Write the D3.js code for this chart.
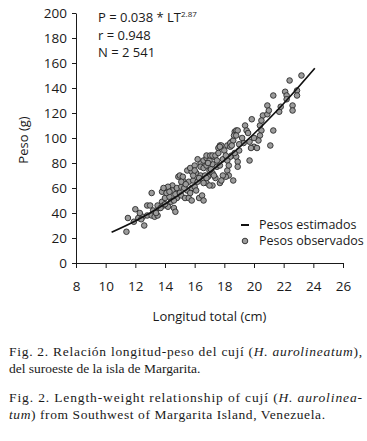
<!DOCTYPE html>
<html lang="es">
<head>
  <meta charset="UTF-8">
  <title>Fig. 2</title>
  <script src="https://d3js.org/d3.v7.min.js"></script>
  <style>
    * { margin: 0; padding: 0; box-sizing: border-box; }
    body { background: #fff; width: 367px; height: 441px; overflow: hidden; }
    .sans { font-family: "Open Sans", "DejaVu Sans", sans-serif; fill: #1a1a1a; }
    .serif { font-family: "Liberation Serif", "DejaVu Serif", serif; fill: #1a1a1a; }
    .axis path, .axis line { stroke: #1a1a1a; stroke-width: 1; }
  </style>
</head>
<body>
  <div id="chart"></div>
  <script>
    // escalas y textos
    const xTicks = [8, 10, 12, 14, 16, 18, 20, 22, 24, 26];
    const yTicks = [0, 20, 40, 60, 80, 100, 120, 140, 160, 180, 200];
    const annotation = ["r = 0.948", "N = 2 541"];
    const legendLabels = ["Pesos estimados", "Pesos observados"];

    // curva estimada (longitud cm, peso g)
    const lineLength = [10.4, 12, 14, 16, 18, 20, 22, 24.1];
    const lineWeight = [24.6, 33.6, 47.2, 63.3, 82.1, 103.4, 127.6, 155.8];

    // pesos observados [longitud, peso]
    const observed = [
      [11.4,25],[11.5,36],[11.9,33],[12.0,43],[12.2,36],[12.5,37],[12.6,30],[12.8,38],[12.8,46],[13.0,46],
      [13.1,38],[13.1,56],[13.3,37],[13.5,38],[13.6,44],[13.5,46],[13.8,49],[13.9,58],[13.9,46],[14.0,52],
      [14.2,60],[14.3,53],[14.4,49],[14.2,45],[14.5,62],[14.7,57],[14.8,52],[14.6,44],[14.7,41],[14.9,69],
      [13.8,57],[14.1,56],[14.5,58],[14.7,55],[15.0,56],[14.2,61],[13.9,60],[14.8,60],[15.1,61],[15.5,58],
      [15.8,60],[16.0,61],[16.1,58],[15.1,54],[15.35,52],[15.6,52],[15.7,56],[15.8,50],[16.3,52],[16.5,54],
      [16.6,50],[15.0,70],[15.2,66],[15.6,65],[15.9,66],[16.2,65],[16.6,66],[16.8,64],[17.2,62],[15.5,74],
      [15.8,73],[16.1,72],[16.4,70],[16.7,70],[16.9,69],[15.2,69],[15.1,65],[15.7,76],[16.0,78],[16.4,80],
      [16.4,77],[16.6,76],[16.8,78],[17.2,79],[17.5,77],[17.7,78],[16.2,83],[16.6,82],[16.8,84],[17.0,82],
      [17.3,85],[16.8,86],[17.05,86],[17.2,86],[17.4,86],[17.6,92],[17.7,94],[17.8,94],[17.7,93],[18.2,94],
      [18.4,93],[18.5,97],[18.4,96],[18.6,98],[18.5,94],[18.7,105],[18.8,106],[18.65,102],[18.9,106],[18.8,102],
      [17.9,83],[18.2,84],[18.5,86],[18.8,85],[18.7,88],[18.4,85],[18.2,82],[18.9,81],[18.9,77],[18.2,74],
      [18.3,70],[18.1,69],[17.9,70],[17.7,64],[17.8,66],[18.6,66],[16.6,64],[17.0,62],[16.8,68],[17.2,72],
      [17.0,74],[17.4,68],[19.3,96],[19.7,97],[20.0,93],[20.2,92],[19.4,110],[19.5,106],[19.6,104],[19.85,115],
      [19.7,82],[20.4,110],[20.5,106],[20.4,102],[20.3,98],[20.6,118],[20.5,114],[20.9,119],[20.9,126],[21.0,122],
      [21.1,94],[21.3,106],[21.3,134],[21.7,121],[21.8,125],[22.1,137],[22.2,134],[22.2,131],[22.4,146],[22.6,126],
      [22.6,122],[22.9,138],[22.9,134],[23.2,150],[19.0,90],[19.2,100],[19.0,95],[20.0,100],[19.8,92],[12.4,35],
      [12.3,40],[13.2,42],[13.4,40],[13.7,44],[14.0,47],[14.3,57],[14.6,50],[15.3,60],[15.4,63],[15.9,70],
      [16.3,68],[16.0,74],[16.9,80],[17.1,75],[17.3,70],[17.5,82],[17.6,88],[18.0,90],[18.1,86],[18.3,78]
    ];

    const W = 367, H = 441;
    const margin = {top: 13, left: 76},
          width = 267,
          height = 250;

    const svg = d3.select("#chart")
                  .append("svg")
                  .attr("width", W)
                  .attr("height", H);

    const g = svg.append("g")
                 .attr("transform", `translate(${margin.left},${margin.top})`);

    const x = d3.scaleLinear().domain([8, 26]).range([0, width]);
    const y = d3.scaleLinear().domain([0, 200]).range([height, 0]);

    g.append("g")
     .attr("class", "axis sans")
     .attr("transform", `translate(0,${height})`)
     .call(d3.axisBottom(x).tickValues(xTicks).tickSizeInner(5).tickSizeOuter(0).tickPadding(13))
     .call(a => a.selectAll("text").attr("class", "sans").style("font-size", "13.5px").attr("fill", "#1a1a1a"));

    g.append("g")
     .attr("class", "axis sans")
     .call(d3.axisLeft(y).tickValues(yTicks).tickSizeInner(4).tickSizeOuter(0).tickPadding(5))
     .call(a => a.selectAll("text").attr("class", "sans").style("font-size", "13.5px").attr("fill", "#1a1a1a"));

    g.selectAll(".axis").attr("font-family", null).attr("font-size", null);

    // puntos observados
    g.selectAll(".obs")
     .data(observed)
     .enter()
     .append("circle")
     .attr("class", "obs")
     .attr("cx", d => x(d[0]))
     .attr("cy", d => y(d[1]))
     .attr("r", 2.8)
     .attr("fill", "#9b9b9b")
     .attr("stroke", "#2a2a2a")
     .attr("stroke-width", 0.9);

    // curva estimada
    const lineData = lineLength.map((l, i) => [l, lineWeight[i]]);
    g.append("path")
     .datum(lineData)
     .attr("fill", "none")
     .attr("stroke", "#111")
     .attr("stroke-width", 1.7)
     .attr("d", d3.line().x(d => x(d[0])).y(d => y(d[1])).curve(d3.curveMonotoneX));

    // ecuacion
    const eq = svg.append("text")
                  .attr("class", "sans")
                  .attr("x", 98)
                  .attr("y", 22)
                  .style("font-size", "13px");
    eq.append("tspan").text("P = 0.038 * LT");
    eq.append("tspan").attr("dy", -5).style("font-size", "8px").text("2.87");

    annotation.forEach((t, i) => {
      svg.append("text")
         .attr("class", "sans")
         .attr("x", 98)
         .attr("y", 40 + i * 17)
         .style("font-size", "13px")
         .text(t);
    });

    // leyenda
    svg.append("line")
       .attr("x1", 241).attr("x2", 249)
       .attr("y1", 225).attr("y2", 225)
       .attr("stroke", "#111")
       .attr("stroke-width", 2);
    svg.append("circle")
       .attr("cx", 245).attr("cy", 241)
       .attr("r", 2.8)
       .attr("fill", "#9b9b9b")
       .attr("stroke", "#2a2a2a")
       .attr("stroke-width", 0.9);
    legendLabels.forEach((t, i) => {
      svg.append("text")
         .attr("class", "sans")
         .attr("x", 259)
         .attr("y", 229 + i * 16)
         .style("font-size", "12.5px")
         .text(t);
    });

    // titulos de ejes
    svg.append("text")
       .attr("class", "sans")
       .attr("x", margin.left + width / 2)
       .attr("y", 321)
       .attr("text-anchor", "middle")
       .style("font-size", "13px")
       .text("Longitud total (cm)");

    svg.append("text")
       .attr("class", "sans")
       .attr("transform", "translate(28,140) rotate(-90)")
       .attr("text-anchor", "middle")
       .style("font-size", "13px")
       .text("Peso (g)");

    // leyenda de la figura
    const caption = [
      {y: 356, len: 353,  parts: [["Fig. 2. Relación longitud-peso del cují (", false], ["H. aurolineatum", true], ["),", false]]},
      {y: 373, len: null, parts: [["del suroeste de la isla de Margarita.", false]]},
      {y: 402, len: 353,  parts: [["Fig. 2. Length-weight relationship of cují (", false], ["H. aurolinea-", true]]},
      {y: 419, len: 316,  parts: [["tum", true], [") from Southwest of Margarita Island, Venezuela.", false]]}
    ];
    caption.forEach(c => {
      const t = svg.append("text")
                   .attr("class", "serif")
                   .attr("x", 9)
                   .attr("y", c.y)
                   .style("font-size", "13.5px");
      if (c.len) t.attr("textLength", c.len).attr("lengthAdjust", "spacing");
      c.parts.forEach(p => {
        t.append("tspan").style("font-style", p[1] ? "italic" : "normal").text(p[0]);
      });
    });
  </script>
</body>
</html>
